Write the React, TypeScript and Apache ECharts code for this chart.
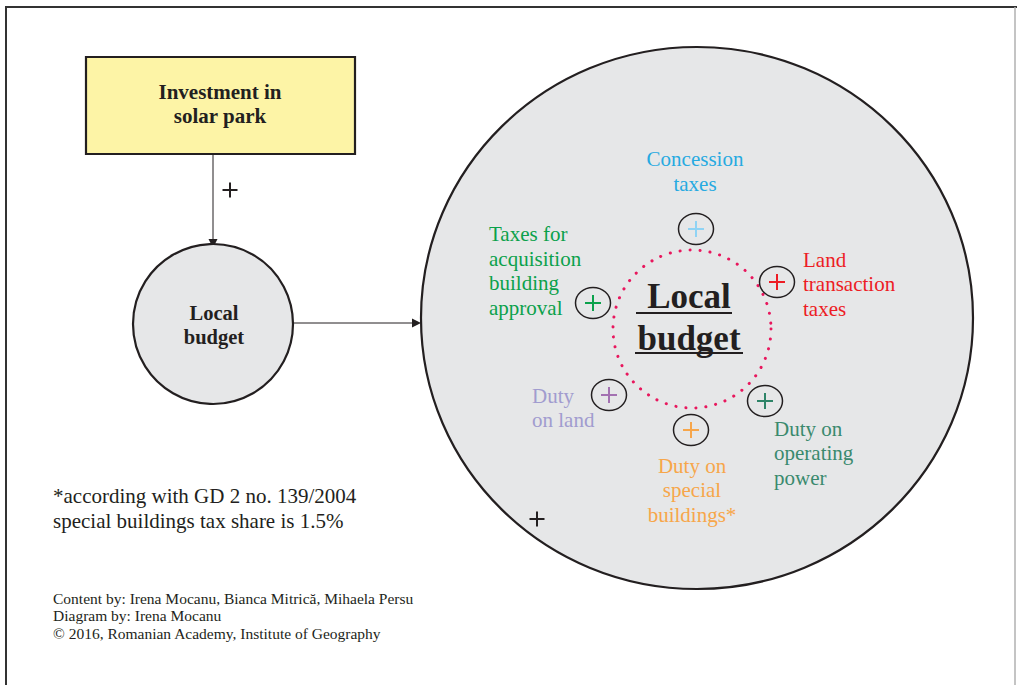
import React, { useEffect, useRef } from "react";
import * as echarts from "echarts";

// ---- content ----
const sourceTitle = ["Investment in", "solar park"];
const budgetLabel = ["Local", "budget"];
const taxSources = [
  "Concession\ntaxes",
  "Land\ntransaction\ntaxes",
  "Duty on\noperating\npower",
  "Duty on\nspecial\nbuildings*",
  "Duty\non land",
  "Taxes for\nacquisition\nbuilding\napproval",
];
const footnote = ["*according with GD 2 no. 139/2004", "special buildings tax share is 1.5%"];
const credits = [
  "Content by: Irena Mocanu, Bianca Mitrică, Mihaela Persu",
  "Diagram by: Irena Mocanu",
  "© 2016, Romanian Academy, Institute of Geography",
];

// ---- layout / style ----
const FONT = "'Liberation Serif', 'DejaVu Serif', serif";
const DARK = "#231f20";
const taxLayout = [
  { mx: 696, my: 229, tx: 695, ty: 147, align: "center", text: "#27aae1", plus: "#8fd3f4" },
  { mx: 777, my: 282, tx: 803, ty: 247.5, align: "left", text: "#ed1c24", plus: "#ed1c24" },
  { mx: 765, my: 401, tx: 774, ty: 416.5, align: "left", text: "#3a8a6e", plus: "#2e8468" },
  { mx: 691, my: 430, tx: 692, ty: 453.5, align: "center", text: "#f7a64a", plus: "#f7a64a" },
  { mx: 609, my: 395, tx: 532, ty: 383.5, align: "left", text: "#a19ccf", plus: "#a371b1" },
  { mx: 593, my: 303, tx: 489, ty: 222, align: "left", text: "#0ba14b", plus: "#0ba14b" },
];

function plus(cx: number, cy: number, half: number, color: string, w: number) {
  return [
    { type: "line", shape: { x1: cx - half, y1: cy, x2: cx + half, y2: cy }, style: { stroke: color, lineWidth: w } },
    { type: "line", shape: { x1: cx, y1: cy - half, x2: cx, y2: cy + half }, style: { stroke: color, lineWidth: w } },
  ];
}

function buildGraphics() {
  const els: any[] = [];
  // frame
  els.push({ type: "line", shape: { x1: 5, y1: 7, x2: 1017, y2: 7 }, style: { stroke: "#333", lineWidth: 2 } });
  els.push({ type: "line", shape: { x1: 6, y1: 7, x2: 6, y2: 685 }, style: { stroke: "#333", lineWidth: 2 } });
  els.push({ type: "line", shape: { x1: 1015, y1: 7, x2: 1015, y2: 685 }, style: { stroke: "#b0b0b0", lineWidth: 1.5 } });

  // yellow source box
  els.push({ type: "rect", shape: { x: 86, y: 57, width: 269, height: 97 }, style: { fill: "#fdf4a6", stroke: DARK, lineWidth: 2.2 } });
  sourceTitle.forEach((t, i) => {
    els.push({ type: "text", x: 220, y: 81 + i * 24.5, style: { text: t, font: `bold 21px ${FONT}`, fill: DARK, textAlign: "center", textVerticalAlign: "top" } });
  });

  // arrow down
  els.push({ type: "line", shape: { x1: 213, y1: 154, x2: 213, y2: 240 }, style: { stroke: DARK, lineWidth: 1 } });
  els.push({ type: "polygon", shape: { points: [[208.5, 239], [217.5, 239], [213, 248]] }, style: { fill: DARK } });
  els.push(...plus(230, 190, 7.5, DARK, 2));

  // small local budget circle
  els.push({ type: "circle", shape: { cx: 213, cy: 324, r: 80 }, style: { fill: "#e6e7e8", stroke: DARK, lineWidth: 2.2 } });
  budgetLabel.forEach((t, i) => {
    els.push({ type: "text", x: 214, y: 302 + i * 24.5, style: { text: t, font: `bold 20.5px ${FONT}`, fill: DARK, textAlign: "center", textVerticalAlign: "top" } });
  });

  // arrow right
  els.push({ type: "line", shape: { x1: 294, y1: 323, x2: 413, y2: 323 }, style: { stroke: DARK, lineWidth: 1 } });
  els.push({ type: "polygon", shape: { points: [[412, 318.5], [412, 327.5], [421, 323]] }, style: { fill: DARK } });

  // big circle
  els.push({ type: "ellipse", shape: { cx: 697, cy: 318, rx: 276, ry: 271 }, style: { fill: "#e6e7e8", stroke: DARK, lineWidth: 2.2 } });

  // dotted inner circle
  els.push({ type: "circle", shape: { cx: 692, cy: 329, r: 79 }, style: { fill: "none", stroke: "#e8175d", lineWidth: 3, lineDash: [0.1, 9.9], lineCap: "round" } });

  // big label
  els.push({ type: "text", x: 689, y: 279, style: { text: "Local", font: `bold 35px ${FONT}`, fill: DARK, textAlign: "center", textVerticalAlign: "top" } });
  els.push({ type: "line", shape: { x1: 636, y1: 313, x2: 732, y2: 313 }, style: { stroke: DARK, lineWidth: 2 } });
  els.push({ type: "text", x: 689, y: 321, style: { text: "budget", font: `bold 35px ${FONT}`, fill: DARK, textAlign: "center", textVerticalAlign: "top" } });
  els.push({ type: "line", shape: { x1: 635, y1: 353, x2: 743, y2: 353 }, style: { stroke: DARK, lineWidth: 2 } });

  // tax sources
  taxSources.forEach((label, i) => {
    const L = taxLayout[i];
    els.push({ type: "ellipse", shape: { cx: L.mx, cy: L.my, rx: 17.5, ry: 15.5 }, style: { fill: "none", stroke: DARK, lineWidth: 1.5 } });
    els.push(...plus(L.mx, L.my, 8, L.plus, 2));
    els.push({ type: "text", x: L.tx, y: L.ty, style: { text: label, font: `21px ${FONT}`, fill: L.text, textAlign: L.align, textVerticalAlign: "top", lineHeight: 24.5 } });
  });

  // lone plus
  els.push(...plus(537, 519, 7.5, DARK, 2));

  // footnote
  footnote.forEach((t, i) => {
    els.push({ type: "text", x: 53, y: 485 + i * 25, style: { text: t, font: `21px ${FONT}`, fill: DARK, textAlign: "left", textVerticalAlign: "top" } });
  });
  credits.forEach((t, i) => {
    els.push({ type: "text", x: 53, y: 590 + i * 17.5, style: { text: t, font: `15.5px ${FONT}`, fill: DARK, textAlign: "left", textVerticalAlign: "top" } });
  });
  return els;
}

export default function App() {
  const ref = useRef<HTMLDivElement>(null);
  useEffect(() => {
    if (!ref.current) return;
    const chart = echarts.init(ref.current, null, { renderer: "svg" });
    chart.setOption({
      animation: false,
      backgroundColor: "#ffffff",
      graphic: { elements: buildGraphics() },
    });
    return () => chart.dispose();
  }, []);
  return (
    <div
      ref={ref}
      style={{ position: "fixed", left: 0, top: 0, width: 1017, height: 685, background: "#fff" }}
    />
  );
}
